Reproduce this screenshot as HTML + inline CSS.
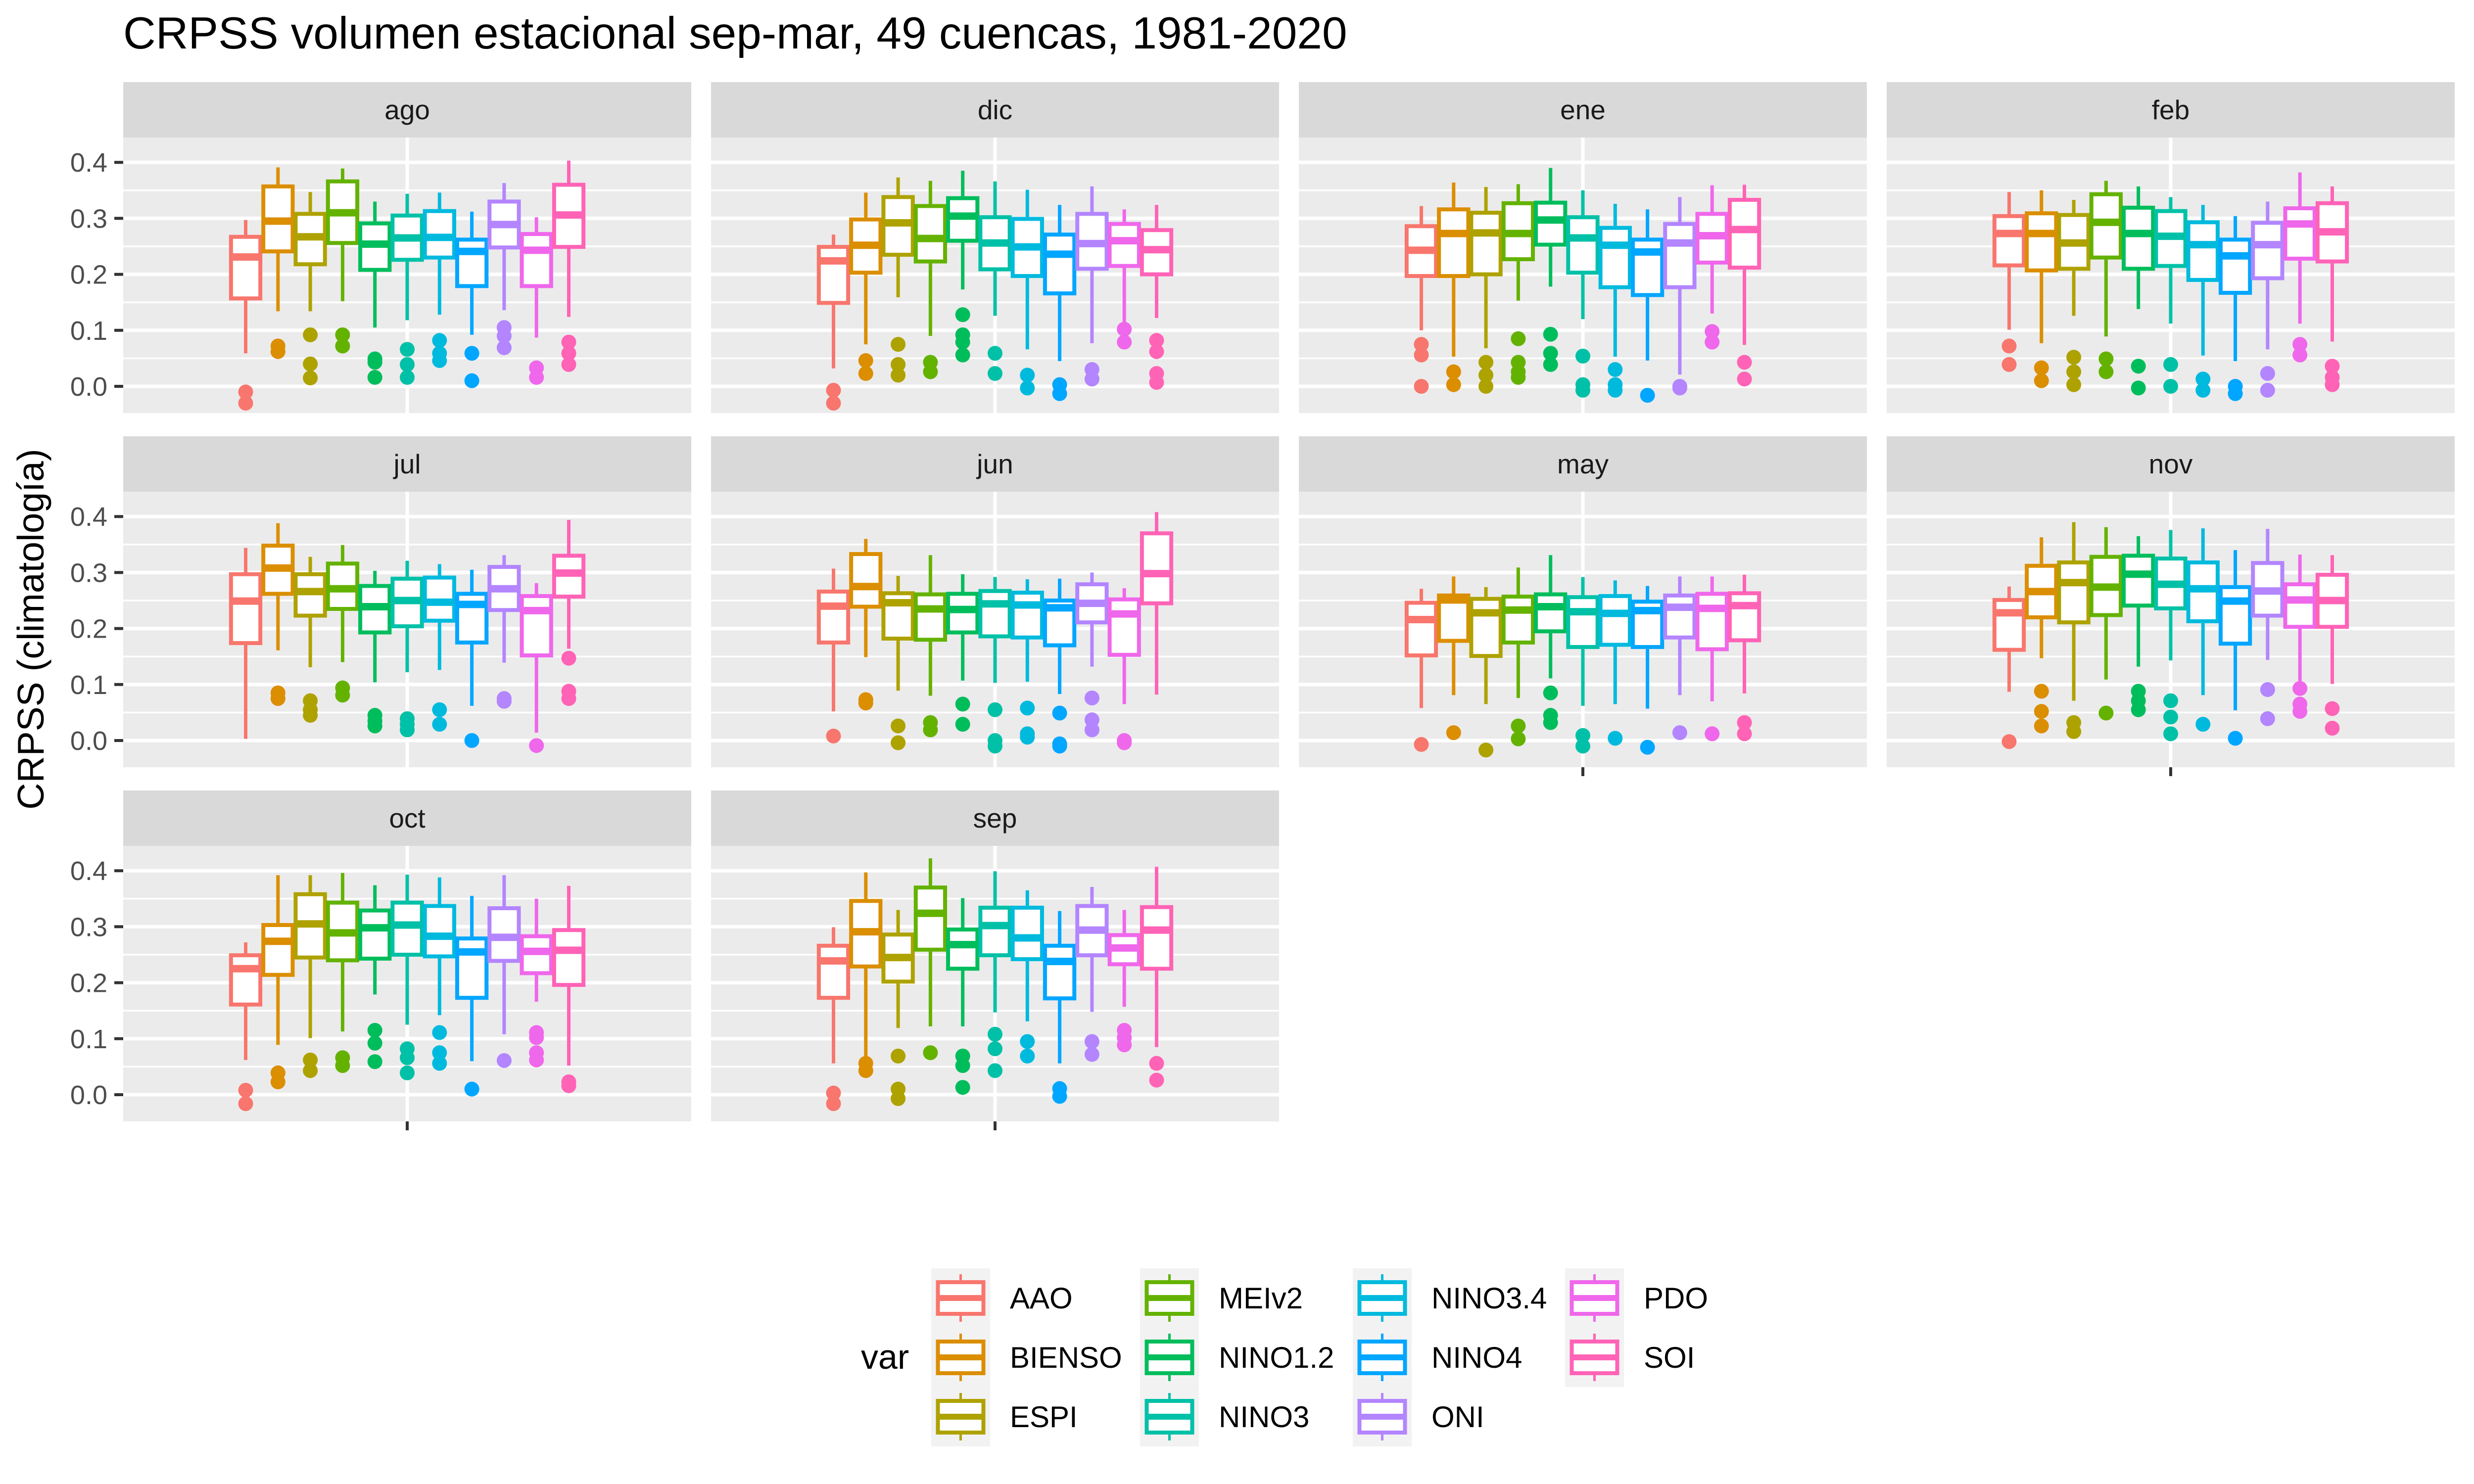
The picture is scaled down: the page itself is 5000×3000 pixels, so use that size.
<!DOCTYPE html>
<html><head><meta charset="utf-8">
<style>
html,body{margin:0;padding:0;background:#fff;}
svg{display:block;font-family:"Liberation Sans",Arial,sans-serif;}
</style></head>
<body>
<svg id="chart" xmlns="http://www.w3.org/2000/svg" width="5000" height="3000" viewBox="0 0 5000 3000">
<rect x="0" y="0" width="5000" height="3000" fill="#ffffff"/>
<text x="249" y="98" font-size="91" fill="#000">CRPSS volumen estacional sep-mar, 49 cuencas, 1981-2020</text>
<text transform="translate(88,1272) rotate(-90)" text-anchor="middle" font-size="75" fill="#000">CRPSS (climatología)</text>
<g id="panels"></g>
<g id="legend"></g>
</svg>
<script>
const months = ["ago","dic","ene","feb","jul","jun","may","nov","oct","sep"];
const vars = ["AAO","BIENSO","ESPI","MEIv2","NINO1.2","NINO3","NINO3.4","NINO4","ONI","PDO","SOI"];
const colors = ["#F8766D","#DB8E00","#AEA200","#64B200","#00BD5C","#00C1A7","#00BADE","#00A6FF","#B385FF","#EF67EB","#FF63B6"];
const yTicks = [0.0,0.1,0.2,0.3,0.4];
const yTickLabels = ["0.0","0.1","0.2","0.3","0.4"];
const upperW = [
 [.297,.391,.347,.389,.330,.344,.346,.312,.363,.302,.403],
 [.271,.346,.373,.367,.385,.366,.351,.324,.357,.316,.324],
 [.322,.364,.356,.361,.390,.350,.326,.316,.338,.359,.360],
 [.347,.350,.333,.367,.357,.338,.324,.304,.330,.382,.357],
 [.344,.388,.328,.349,.303,.321,.315,.305,.331,.281,.394],
 [.307,.360,.294,.331,.297,.292,.288,.289,.300,.272,.408],
 [.271,.293,.274,.309,.331,.292,.286,.276,.293,.293,.296],
 [.275,.363,.390,.381,.365,.376,.379,.340,.378,.332,.331],
 [.272,.392,.392,.396,.374,.393,.388,.355,.392,.350,.373],
 [.299,.397,.330,.422,.351,.399,.365,.328,.371,.330,.407]];
const q3 = [
 [.267,.357,.308,.366,.291,.305,.313,.262,.330,.272,.360],
 [.249,.298,.338,.322,.336,.302,.299,.271,.308,.290,.279],
 [.286,.316,.310,.327,.328,.302,.283,.262,.290,.308,.333],
 [.304,.309,.306,.343,.319,.313,.293,.262,.292,.318,.327],
 [.297,.348,.297,.316,.276,.289,.291,.262,.310,.258,.330],
 [.266,.333,.263,.261,.262,.267,.264,.250,.279,.252,.370],
 [.246,.259,.253,.257,.261,.256,.258,.248,.259,.262,.263],
 [.251,.312,.318,.328,.330,.325,.318,.274,.317,.279,.296],
 [.249,.303,.358,.343,.329,.343,.337,.279,.333,.283,.294],
 [.266,.346,.286,.370,.295,.334,.334,.266,.337,.285,.335]];
const med = [
 [.231,.295,.267,.310,.254,.265,.266,.241,.289,.243,.306],
 [.224,.252,.292,.264,.304,.256,.249,.236,.255,.260,.244],
 [.243,.273,.274,.273,.297,.265,.252,.240,.256,.269,.280],
 [.273,.273,.256,.293,.273,.268,.253,.233,.253,.290,.276],
 [.249,.308,.266,.271,.239,.250,.247,.243,.271,.232,.299],
 [.240,.275,.246,.235,.234,.244,.242,.237,.245,.226,.298],
 [.216,.251,.228,.233,.239,.230,.227,.232,.238,.236,.241],
 [.228,.266,.282,.274,.297,.279,.271,.249,.267,.251,.250],
 [.225,.274,.305,.289,.298,.303,.283,.255,.281,.256,.258],
 [.239,.291,.245,.324,.268,.302,.280,.238,.294,.262,.294]];
const q1 = [
 [.157,.241,.218,.256,.208,.226,.230,.179,.248,.179,.249],
 [.149,.203,.235,.223,.260,.209,.197,.166,.210,.215,.200],
 [.197,.197,.200,.227,.253,.203,.177,.163,.177,.221,.212],
 [.216,.207,.210,.230,.210,.215,.190,.167,.193,.228,.223],
 [.174,.262,.223,.235,.193,.204,.214,.175,.233,.152,.257],
 [.175,.239,.182,.180,.193,.186,.184,.170,.211,.153,.245],
 [.152,.178,.151,.175,.195,.167,.171,.167,.184,.163,.179],
 [.162,.220,.211,.224,.241,.236,.213,.173,.223,.203,.203],
 [.161,.214,.245,.240,.243,.250,.247,.173,.239,.217,.196],
 [.173,.229,.202,.259,.225,.249,.242,.172,.249,.233,.225]];
const lowerW = [
 [.059,.134,.134,.152,.105,.118,.128,.092,.136,.087,.124],
 [.032,.075,.159,.090,.173,.126,.066,.045,.077,.069,.122],
 [.100,.053,.068,.153,.178,.120,.053,.046,.021,.130,.074],
 [.101,.077,.126,.089,.138,.112,.055,.045,.066,.112,.080],
 [.003,.161,.131,.140,.104,.122,.126,.062,.139,.014,.164],
 [.052,.149,.089,.080,.107,.103,.105,.083,.132,.065,.082],
 [.058,.081,.065,.076,.111,.062,.065,.057,.081,.070,.084],
 [.087,.147,.071,.109,.132,.143,.081,.054,.144,.106,.101],
 [.062,.089,.101,.113,.179,.125,.142,.060,.108,.166,.052],
 [.056,.066,.119,.122,.122,.147,.131,.056,.148,.157,.085]];
const outliers = [
 [[-.010,-.030],[.072,.062],[.092,.040,.015],[.092,.072],[.049,.043,.016],[.066,.039,.016],[.082,.059,.046],[.059,.010],[.105,.090,.069],[.033,.016],[.079,.059,.039]],
 [[-.007,-.030],[.046,.023],[.075,.039,.020],[.043,.026],[.128,.092,.079,.056],[.059,.023],[.020,-.003],[.003,-.013],[.030,.013],[.102,.079],[.082,.062,.023,.007]],
 [[.075,.056,.0],[.026,.003],[.043,.020,.0],[.085,.043,.026,.016],[.093,.059,.039],[.054,.003,-.007],[.030,.003,-.007],[-.016],[.0,-.003],[.098,.079],[.043,.013]],
 [[.072,.039],[.033,.010],[.052,.026,.003],[.049,.026],[.036,-.003],[.039,.0],[.013,-.007],[.0,-.013],[.023,-.007],[.075,.056],[.036,.016,.003]],
 [[],[.085,.075],[.071,.055,.045],[.094,.081],[.045,.035,.026],[.039,.029,.019],[.055,.029],[.0],[.075,.070],[-.009],[.147,.088,.075]],
 [[.008],[.073,.067],[.026,-.004],[.032,.019],[.065,.029],[.055,.0,-.010],[.058,.012,.006],[.049,-.006,-.010],[.076,.037,.019],[.0,-.004],[]],
 [[-.007],[.014],[-.017],[.026,.003],[.085,.045,.032],[.009,-.010],[.004],[-.012],[.014],[.012],[.032,.012]],
 [[-.002],[.088,.052,.026],[.032,.016],[.049],[.088,.071,.055],[.071,.042,.012],[.029],[.004],[.091,.039],[.093,.065,.052],[.057,.022]],
 [[.008,-.016],[.039,.023],[.062,.043],[.066,.052],[.115,.092,.059],[.082,.066,.039],[.111,.075,.056],[.010],[.061],[.111,.102,.075,.062],[.023,.016]],
 [[.003,-.016],[.056,.043],[.069,.010,-.007],[.075],[.069,.052,.013],[.108,.082,.043],[.095,.069],[.011,-.003],[.095,.072],[.115,.102,.089],[.056,.026]]];

const NS = "http://www.w3.org/2000/svg";
function mk(tag, attrs, parent){const e=document.createElementNS(NS,tag);for(const k in attrs)e.setAttribute(k,attrs[k]);parent.appendChild(e);return e;}
const PL=249, PITCH_X=1188, PW=1148, ROW_PITCH=716, STRIP_TOP=166, STRIP_H=112, PANEL_TOP=278, PH=557, Y0=781, PXPERUNIT=1132;
const SLOT=65.3;
function yScale(row,v){return Y0+row*ROW_PITCH - v*PXPERUNIT;}
function xScale(col,vi){return PL+col*PITCH_X+PW/2+(vi-(vars.length-1)/2)*SLOT;}

const panels=document.getElementById('panels');
months.forEach((m,i)=>{
  const row=Math.floor(i/4), col=i%4;
  const left=PL+col*PITCH_X, st=STRIP_TOP+row*ROW_PITCH, pt=PANEL_TOP+row*ROW_PITCH;
  const g=mk('g',{},panels);
  
  
  const sr=mk('rect',{x:left,y:st,width:PW,height:STRIP_H,fill:'#D9D9D9'},g);
  
  
  const stx=mk('text',{x:left+PW/2,y:st+STRIP_H/2+19,'text-anchor':'middle','font-size':55,fill:'#1A1A1A'},g);
  stx.textContent=m;
  
  
  const bg=mk('rect',{x:left,y:pt,width:PW,height:PH,fill:'#EBEBEB'},g);
  
  
  [0.05,0.15,0.25,0.35].forEach(v=>{
    const l=mk('line',{x1:left,x2:left+PW,y1:yScale(row,v),y2:yScale(row,v),stroke:'#fff','stroke-width':3.5},g);
    
    
  });
  yTicks.forEach(v=>{
    const l=mk('line',{x1:left,x2:left+PW,y1:yScale(row,v),y2:yScale(row,v),stroke:'#fff','stroke-width':7},g);
    
    
  });
  const vl=mk('line',{x1:left+PW/2,x2:left+PW/2,y1:pt,y2:pt+PH,stroke:'#fff','stroke-width':7},g);
  
  
  if(col===0){
    yTicks.forEach((v,k)=>{
      const y=yScale(row,v);
      const t=mk('line',{x1:231,x2:249,y1:y,y2:y,stroke:'#333','stroke-width':6},g);
      
      
      const tl=mk('text',{x:217,y:y+19,'text-anchor':'end','font-size':54,fill:'#4D4D4D'},g);
      tl.textContent=yTickLabels[k];
      
      
    });
  }
  const isBottom = (row===2) || (row===1 && col>=2);
  if(isBottom){
    const xt=mk('line',{x1:left+PW/2,x2:left+PW/2,y1:pt+PH,y2:pt+PH+18,stroke:'#333','stroke-width':6},g);
    
    
  }
  vars.forEach((vn,vi)=>{
    const cx=xScale(col,vi), c=colors[vi];
    const bx=mk('g',{},g);
    
    
    const yU=yScale(row,upperW[i][vi]), yQ3=yScale(row,q3[i][vi]), yM=yScale(row,med[i][vi]), yQ1=yScale(row,q1[i][vi]), yL=yScale(row,lowerW[i][vi]);
    mk('line',{x1:cx,x2:cx,y1:yU,y2:yQ3,stroke:c,'stroke-width':7},bx);
    mk('line',{x1:cx,x2:cx,y1:yQ1,y2:yL,stroke:c,'stroke-width':7},bx);
    mk('rect',{x:cx-SLOT/2+3,y:yQ3,width:SLOT-6,height:yQ1-yQ3,fill:'#fff',stroke:c,'stroke-width':8},bx);
    mk('line',{x1:cx-SLOT/2+3,x2:cx+SLOT/2-3,y1:yM,y2:yM,stroke:c,'stroke-width':15},bx);
    outliers[i][vi].forEach(o=>{
      const d=mk('circle',{cx:cx,cy:yScale(row,o),r:15,fill:c},bx);
      
      
    });
  });
});

const lg=document.getElementById('legend');
const lt=mk('text',{x:1740,y:2767,'font-size':70,fill:'#000'},lg);
lt.textContent='var';


const colX=[1882,2304,2734,3163];
const rowY=[2564,2684,2804];
vars.forEach((vn,vi)=>{
  const c=Math.floor(vi/3), r=vi%3;
  const x=colX[c], y=rowY[r], c0=colors[vi];
  const e=mk('g',{},lg);
  
  
  mk('rect',{x:x,y:y,width:119,height:120,fill:'#F2F2F2'},e);
  const kx=x+59.5;
  mk('line',{x1:kx,x2:kx,y1:y+12,y2:y+108,stroke:c0,'stroke-width':5},e);
  mk('rect',{x:kx-46,y:y+28,width:92,height:64,fill:'#fff',stroke:c0,'stroke-width':8},e);
  mk('line',{x1:kx-46,x2:kx+46,y1:y+60,y2:y+60,stroke:c0,'stroke-width':12},e);
  const t=mk('text',{x:x+159,y:y+81,'font-size':60,fill:'#000'},e);
  t.textContent=vn;
  
  
});
</script>
</body></html>
